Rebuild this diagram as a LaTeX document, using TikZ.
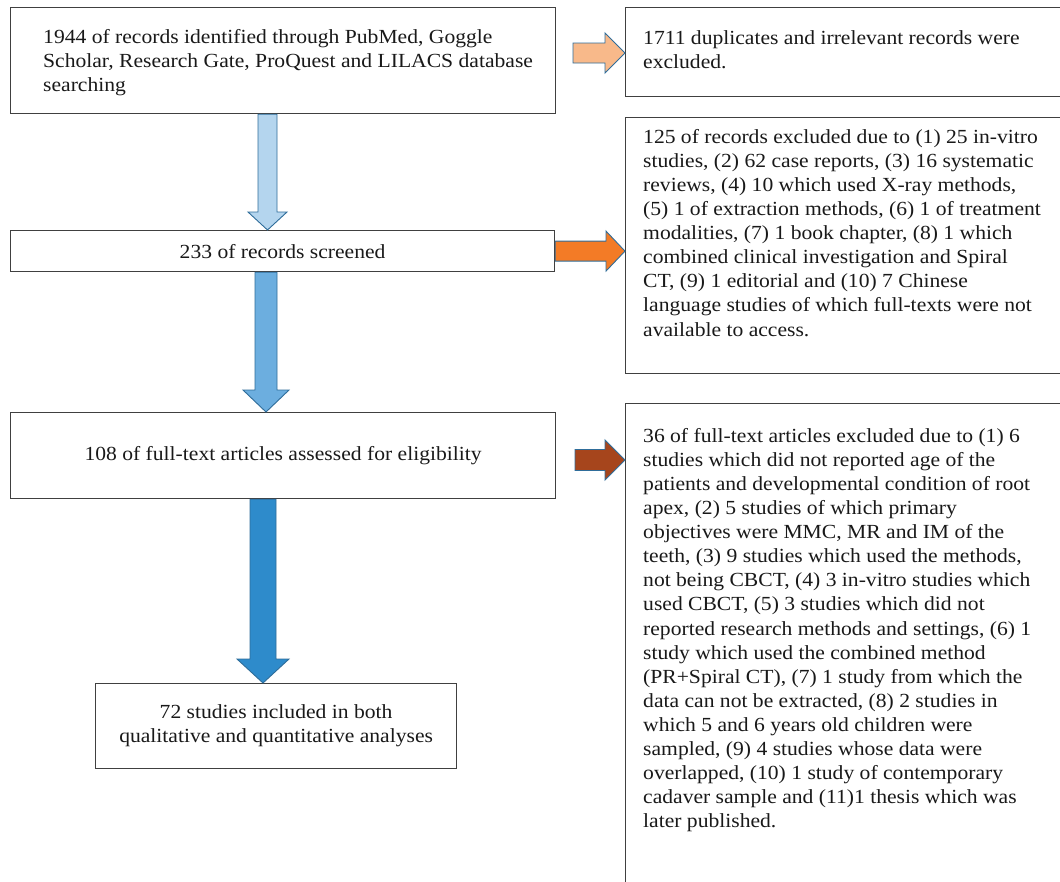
\documentclass[tikz,border=0pt]{standalone}
\usepackage{fontspec}
\setmainfont{Liberation Serif}[FakeStretch=1.08]
\usetikzlibrary{calc}
\definecolor{framegray}{HTML}{404040}
\definecolor{arrowline}{HTML}{2F6D9A}
\definecolor{peach}{HTML}{F8B98A}
\definecolor{orangeA}{HTML}{F37B26}
\definecolor{brownA}{HTML}{A6451C}
\definecolor{blueA}{HTML}{B4D5EE}
\definecolor{blueB}{HTML}{6CAEDF}
\definecolor{blueC}{HTML}{2E8BCB}
\newcommand\fatdown[6]{% colour, start, tip, half body, half head, head length
  \filldraw[fatarrow, fill=#1] let \p1=(#2), \p2=(#3) in
    (\x1-#4pt,\y1) -- (\x1+#4pt,\y1) -- (\x1+#4pt,\y2+#6pt) -- (\x1+#5pt,\y2+#6pt)
    -- (\x1,\y2) -- (\x1-#5pt,\y2+#6pt) -- (\x1-#4pt,\y2+#6pt) -- cycle;}
\newcommand\fatright[6]{% colour, start, tip, half body, half head, head length
  \filldraw[fatarrow, fill=#1] let \p1=(#2), \p2=(#3) in
    (\x1,\y1+#4pt) -- (\x2-#6pt,\y1+#4pt) -- (\x2-#6pt,\y1+#5pt) -- (\x2,\y1)
    -- (\x2-#6pt,\y1-#5pt) -- (\x2-#6pt,\y1-#4pt) -- (\x1,\y1-#4pt) -- cycle;}
\begin{document}
\begin{tikzpicture}[x=1pt,y=-1pt,
  frame/.style={draw=framegray, line width=1.2pt, fill=white, rectangle, anchor=north west, inner sep=0pt},
  txt/.style={font=\fontsize{20}{24.1}\selectfont, text=black!90, inner sep=0pt},
  fatarrow/.style={draw=arrowline, line width=0.9pt, line join=miter}]
\useasboundingbox (0,0) rectangle (1060,881);
\fill[white] (0,0) rectangle (1060,881);
\clip (0,0) rectangle (1060,881);

% left column boxes
\node[frame, minimum width=545pt, minimum height=106pt] (b1) at (10,7) {};
\node[frame, txt, minimum width=544pt, minimum height=41pt, align=center] (b2) at (10,230) {233 of records screened};
\node[frame, txt, minimum width=545pt, minimum height=86pt, align=center] (b3) at (10,412) {108 of full-text articles assessed for eligibility};
\node[frame, txt, minimum width=361pt, minimum height=85pt, align=center] (b4) at (95,683)
  {72 studies included in both\\qualitative and quantitative analyses};
\node[txt, anchor=north west, align=left] (t1) at ($(b1.north west)+(33,22)$)
  {1944 of records identified through PubMed, Goggle\\Scholar, Research Gate, ProQuest and LILACS database\\searching};

% right column boxes (run past the right / bottom edge)
\node[frame, minimum width=460pt, minimum height=89pt] (r1) at (625,7) {};
\node[frame, minimum width=460pt, minimum height=256pt] (r2) at (625,117) {};
\node[frame, minimum width=460pt, minimum height=500pt] (r3) at (625,403) {};

\node[txt, anchor=north west, align=left] (t4) at ($(r1.north west)+(18,23)$)
  {1711 duplicates and irrelevant records were\\excluded.};
\node[txt, anchor=north west, align=left] (t2) at ($(r2.north west)+(18,12)$)
  {125 of records excluded due to (1) 25 in-vitro\\
   studies, (2) 62 case reports, (3) 16 systematic\\
   reviews, (4) 10 which used X-ray methods,\\
   (5) 1 of extraction methods, (6) 1 of treatment\\
   modalities, (7) 1 book chapter, (8) 1 which\\
   combined clinical investigation and Spiral\\
   CT, (9) 1 editorial and (10) 7 Chinese\\
   language studies of which full-texts were not\\
   available to access.};
\node[txt, anchor=north west, align=left] (t3) at ($(r3.north west)+(18,25)$)
  {36 of full-text articles excluded due to (1) 6\\
   studies which did not reported age of the\\
   patients and developmental condition of root\\
   apex, (2) 5 studies of which primary\\
   objectives were MMC, MR and IM of the\\
   teeth, (3) 9 studies which used the methods,\\
   not being CBCT, (4) 3 in-vitro studies which\\
   used CBCT, (5) 3 studies which did not\\
   reported research methods and settings, (6) 1\\
   study which used the combined method\\
   (PR+Spiral CT), (7) 1 study from which the\\
   data can not be extracted, (8) 2 studies in\\
   which 5 and 6 years old children were\\
   sampled, (9) 4 studies whose data were\\
   overlapped, (10) 1 study of contemporary\\
   cadaver sample and (11)1 thesis which was\\
   later published.};

% connector end points
\coordinate (h1s) at (573,53);
\coordinate (h1e) at (r1.west |- h1s);
\coordinate (h2s) at (b2.east);
\coordinate (h2e) at (r2.west |- h2s);
\coordinate (h3s) at (575,460);
\coordinate (h3e) at (r3.west |- h3s);
\coordinate (d1s) at ($(b1.south west)+(257.5,0)$);
\coordinate (d1e) at (d1s |- b2.north);
\coordinate (d2s) at ($(b2.south west)+(256,0)$);
\coordinate (d2e) at (d2s |- b3.north);
\coordinate (d3s) at ($(b3.south west)+(253,0)$);
\coordinate (d3e) at (d3s |- b4.north);

% block arrows
\fatright{peach}{h1s}{h1e}{10}{20}{20}
\fatright{orangeA}{h2s}{h2e}{10}{20}{19}
\fatright{brownA}{h3s}{h3e}{10.5}{20}{20}
\fatdown{blueA}{d1s}{d1e}{9.5}{19.5}{18}
\fatdown{blueB}{d2s}{d2e}{11}{23}{22}
\fatdown{blueC}{d3s}{d3e}{13}{26}{24}
\end{tikzpicture}
\end{document}
